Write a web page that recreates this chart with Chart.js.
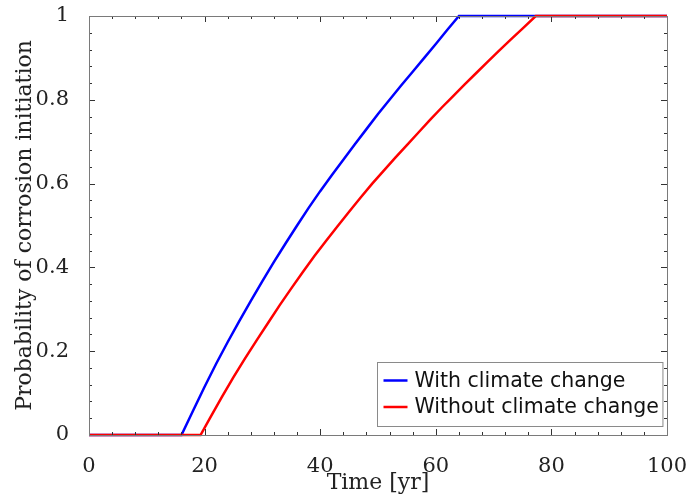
<!DOCTYPE html>
<html>
<head>
<meta charset="utf-8">
<style>
  html, body { margin: 0; padding: 0; background: #fff; }
  #wrap { width: 686px; height: 504px; }
</style>
<script src="https://cdn.jsdelivr.net/npm/chart.js@4/dist/chart.umd.min.js"></script>
</head>
<body>
<div id="wrap"><canvas id="c" width="686" height="504"></canvas></div>
<script>
// Probability of corrosion initiation over time
const yearsWith = [0, 16, 18, 20, 22, 24, 26, 28, 30, 32, 34, 36, 38, 40, 42, 44, 46, 48, 50,
                   52, 54, 56, 58, 60, 62, 64, 70, 80, 90, 100];
const probWith = [0, 0, 0.058, 0.115, 0.170, 0.222, 0.272, 0.320, 0.367, 0.413, 0.457, 0.500,
                  0.542, 0.582, 0.620, 0.657, 0.694, 0.730, 0.766, 0.800, 0.834, 0.867, 0.900,
                  0.933, 0.967, 1, 1, 1, 1, 1];

const yearsWithout = [0, 19.3, 21, 23, 25, 27, 29, 31, 33, 35, 37, 39, 41, 43, 45, 47, 49, 51,
                      53, 55, 57, 59, 61, 63, 65, 67, 69, 71, 73, 75, 77.3, 80, 90, 100];
const probWithout = [0, 0, 0.042, 0.091, 0.138, 0.183, 0.226, 0.268, 0.310, 0.350, 0.389, 0.427,
                     0.463, 0.498, 0.533, 0.567, 0.600, 0.631, 0.662, 0.692, 0.722, 0.752, 0.781,
                     0.809, 0.837, 0.864, 0.891, 0.918, 0.944, 0.970, 1, 1, 1, 1];

const seriesLabels = ['With climate change', 'Without climate change'];
const xTicks = [0, 20, 40, 60, 80, 100];
const xTickLabels = ['0', '20', '40', '60', '80', '100'];
const yTicks = [0, 0.2, 0.4, 0.6, 0.8, 1];
const yTickLabels = ['0', '0.2', '0.4', '0.6', '0.8', '1'];
const xMinorStep = 4;
const yMinorStep = 0.04;

const serif = '"DejaVu Serif", serif';
const sans = '"DejaVu Sans", sans-serif';

const toPoints = (xs, ys) => xs.map((x, i) => ({ x: x, y: ys[i] }));
const labelFor = (values, labels) => v => {
  const i = values.findIndex(t => Math.abs(t - v) < 1e-9);
  return i >= 0 ? labels[i] : '';
};
// keep the plot box fixed: no extra room reserved for overhanging end labels
const fixedBox = (prop, size) => s => {
  s[prop] = size;
  s.paddingLeft = 0; s.paddingRight = 0; s.paddingTop = 0; s.paddingBottom = 0;
};

// Box frame with inward major/minor ticks on all four sides
const framePlugin = {
  id: 'frame',
  afterDatasetsDraw(chart) {
    const { ctx, chartArea: a, scales: { x, y } } = chart;
    ctx.save();
    ctx.lineWidth = 1;
    ctx.strokeStyle = '#333';
    const major = 6, minor = 3;
    ctx.beginPath();
    for (let v = x.min; v <= x.max + 1e-9; v += xMinorStep) {
      const px = Math.round(x.getPixelForValue(v)) + 0.5;
      const len = xTicks.some(t => Math.abs(t - v) < 1e-6) ? major : minor;
      ctx.moveTo(px, a.bottom); ctx.lineTo(px, a.bottom - len);
      ctx.moveTo(px, a.top); ctx.lineTo(px, a.top + len);
    }
    for (let v = y.min; v <= y.max + 1e-9; v += yMinorStep) {
      const py = Math.round(y.getPixelForValue(v)) + 0.5;
      const len = yTicks.some(t => Math.abs(t - v) < 1e-6) ? major : minor;
      ctx.moveTo(a.left, py); ctx.lineTo(a.left + len, py);
      ctx.moveTo(a.right, py); ctx.lineTo(a.right - len, py);
    }
    ctx.stroke();
    ctx.strokeStyle = '#7a7a7a';
    ctx.strokeRect(Math.round(a.left) + 0.5, Math.round(a.top) + 0.5,
                   Math.round(a.right - a.left), Math.round(a.bottom - a.top));
    ctx.restore();
  }
};

// Legend boxed in the lower-right corner of the plot
const insetLegend = {
  id: 'insetLegend',
  afterDraw(chart) {
    const { ctx, chartArea: a } = chart;
    const ds = chart.data.datasets;
    ctx.save();
    ctx.font = '20.5px ' + sans;
    const rowH = 26.5;
    const textW = Math.max(...ds.map(d => ctx.measureText(d.label).width));
    const boxW = 6 + 24 + 7 + textW + 4;
    const boxH = 64;
    const bx = Math.round(a.right - 5 - boxW) + 0.5;
    const by = Math.round(a.bottom - 9 - boxH) + 0.5;
    ctx.fillStyle = '#fff';
    ctx.fillRect(bx, by, boxW, boxH);
    ctx.strokeStyle = '#8a8a8a';
    ctx.lineWidth = 1;
    ctx.strokeRect(bx, by, boxW, boxH);
    ds.forEach((d, i) => {
      const cy = by + 18 + i * rowH;
      ctx.strokeStyle = d.borderColor;
      ctx.lineWidth = 2.5;
      ctx.beginPath();
      ctx.moveTo(bx + 6, cy); ctx.lineTo(bx + 30, cy);
      ctx.stroke();
      ctx.fillStyle = '#111';
      ctx.textBaseline = 'middle';
      ctx.textAlign = 'left';
      ctx.fillText(d.label, bx + 37, cy + 1);
    });
    ctx.restore();
  }
};

new Chart(document.getElementById('c'), {
  type: 'line',
  data: {
    datasets: [
      {
        label: seriesLabels[0],
        data: toPoints(yearsWith, probWith),
        borderColor: 'rgb(0,0,255)',
        borderWidth: 2.5,
        pointRadius: 0,
        tension: 0,
        fill: false,
        clip: false,
        order: 1
      },
      {
        label: seriesLabels[1],
        data: toPoints(yearsWithout, probWithout),
        borderColor: 'rgb(255,0,0)',
        borderWidth: 2.5,
        pointRadius: 0,
        tension: 0,
        fill: false,
        clip: false,
        order: 0
      }
    ]
  },
  options: {
    responsive: false,
    animation: false,
    events: [],
    layout: { padding: { top: 16, right: 19, left: 0, bottom: 0 } },
    plugins: { legend: { display: false }, tooltip: { enabled: false } },
    scales: {
      x: {
        type: 'linear',
        min: 0, max: 100,
        afterBuildTicks: s => { s.ticks = xTicks.map(v => ({ value: v })); },
        afterFit: fixedBox('height', 69),
        grid: { display: false },
        border: { display: false },
        ticks: { color: '#222', font: { family: serif, size: 21 }, padding: 11, maxRotation: 0,
                 callback: labelFor(xTicks, xTickLabels) },
        title: { display: true, text: 'Time [yr]', color: '#222', font: { family: serif, size: 22 },
                 padding: { top: 0, bottom: 8 } }
      },
      y: {
        type: 'linear',
        min: 0, max: 1,
        afterBuildTicks: s => { s.ticks = yTicks.map(v => ({ value: v })); },
        afterFit: fixedBox('width', 89),
        grid: { display: false },
        border: { display: false },
        ticks: { color: '#222', font: { family: serif, size: 21 }, padding: 12,
                 callback: labelFor(yTicks, yTickLabels) },
        title: { display: true, text: 'Probability of corrosion initiation', color: '#222',
                 font: { family: serif, size: 22 }, padding: { top: 12, bottom: 0 } }
      }
    }
  },
  plugins: [framePlugin, insetLegend]
});
</script>
</body>
</html>
